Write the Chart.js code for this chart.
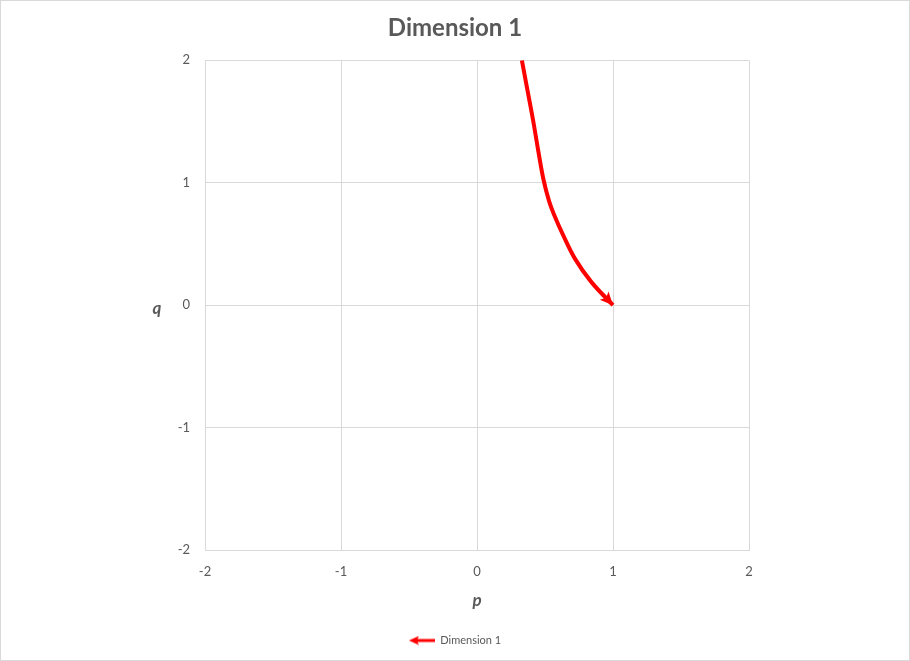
<!DOCTYPE html>
<html>
<head>
<meta charset="utf-8">
<script src="https://cdn.jsdelivr.net/npm/chart.js@4/dist/chart.umd.min.js"></script>
<style>
  html, body { margin: 0; padding: 0; background: #fff; }
  #wrap { width: 910px; height: 661px; }
</style>
</head>
<body>
<div id="wrap"><canvas id="chart" width="910" height="661"></canvas></div>
<script>
// values
const seriesName = 'Dimension 1';
const pValues = [0.33, 0.372, 0.414, 0.452, 0.49, 0.53, 0.57, 0.63, 0.72, 0.84, 1.00];
const qValues = [2.00, 1.75, 1.50, 1.25, 1.02, 0.85, 0.73, 0.58, 0.38, 0.19, 0.00];
const axisMin = -2;
const axisMax = 2;

const textColor = '#595959';
const gridColor = '#d9d9d9';
const lineColor = '#ff0000';
const fontFamily = 'Lato, "Liberation Sans", sans-serif';

const points = pValues.map((p, i) => ({ x: p, y: qValues[i] }));

// little arrow used as the legend symbol
function legendArrow() {
    const c = document.createElement('canvas');
    c.width = 26; c.height = 10;
    const g = c.getContext('2d');
    g.strokeStyle = lineColor;
    g.fillStyle = lineColor;
    g.lineWidth = 3;
    g.beginPath();
    g.moveTo(8, 5); g.lineTo(26, 5);
    g.stroke();
    g.beginPath();
    g.moveTo(0, 5); g.lineTo(10, 0.5); g.lineTo(8, 5); g.lineTo(10, 9.5);
    g.closePath();
    g.fill();
    return c;
}

const frame = {
    id: 'frame',
    beforeDraw(chart) {
        const ctx = chart.ctx;
        ctx.save();
        ctx.fillStyle = '#fff';
        ctx.fillRect(0, 0, chart.width, chart.height);
        ctx.strokeStyle = gridColor;
        ctx.lineWidth = 1;
        ctx.strokeRect(0.5, 0.5, chart.width - 1, chart.height - 1);
        ctx.restore();
    },
    afterDraw(chart) {
        // unrotated y axis title
        const ctx = chart.ctx;
        ctx.save();
        ctx.fillStyle = textColor;
        ctx.font = 'italic bold 17px ' + fontFamily;
        ctx.textAlign = 'center';
        ctx.textBaseline = 'middle';
        ctx.fillText('q', 157, chart.scales.y.getPixelForValue(0) + 3);
        ctx.restore();
    }
};

const arrowHead = {
    id: 'arrowHead',
    afterDatasetsDraw(chart) {
        const pts = chart.getDatasetMeta(0).data;
        if (pts.length < 2) return;
        const a = pts[pts.length - 2], b = pts[pts.length - 1];
        const ang = Math.atan2(b.y - a.y, b.x - a.x);
        const len = 13, half = 6;
        const ctx = chart.ctx;
        ctx.save();
        ctx.translate(b.x, b.y);
        ctx.rotate(ang);
        ctx.fillStyle = lineColor;
        ctx.beginPath();
        ctx.moveTo(0, 0);
        ctx.lineTo(-len, -half);
        ctx.lineTo(-len + 3, 0);
        ctx.lineTo(-len, half);
        ctx.closePath();
        ctx.fill();
        ctx.restore();
    }
};

new Chart(document.getElementById('chart'), {
    type: 'scatter',
    data: {
        datasets: [{
            label: seriesName,
            data: points,
            showLine: true,
            borderColor: lineColor,
            backgroundColor: lineColor,
            borderWidth: 4,
            pointRadius: 0,
            pointHoverRadius: 0,
            tension: 0.4,
            pointStyle: legendArrow()
        }]
    },
    options: {
        responsive: false,
        animation: false,
        layout: { padding: { left: 0, right: 0, top: 0, bottom: 5 } },
        plugins: {
            title: {
                display: true,
                text: 'Dimension 1',
                color: textColor,
                font: { family: fontFamily, size: 24, weight: 'bold' },
                padding: { top: 14, bottom: 17.5 }
            },
            legend: {
                position: 'bottom',
                labels: {
                    color: textColor,
                    font: { family: fontFamily, size: 11 },
                    usePointStyle: true,
                    pointStyleWidth: 26,
                    boxHeight: 10,
                    padding: 10
                }
            },
            tooltip: { enabled: false }
        },
        scales: {
            x: {
                type: 'linear',
                min: axisMin,
                max: axisMax,
                afterFit(scale) { scale.height = 75; },
                ticks: {
                    stepSize: 1,
                    color: textColor,
                    font: { family: fontFamily, size: 13 },
                    padding: 14
                },
                grid: { color: gridColor, drawTicks: false },
                border: { color: gridColor },
                title: {
                    display: true,
                    text: 'p',
                    color: textColor,
                    font: { family: fontFamily, size: 17, style: 'italic', weight: 'bold' },
                    padding: { top: 10, bottom: 14 }
                }
            },
            y: {
                type: 'linear',
                min: axisMin,
                max: axisMax,
                afterFit(scale) { scale.width = 205; },
                ticks: {
                    stepSize: 1,
                    color: textColor,
                    font: { family: fontFamily, size: 13 },
                    padding: 15
                },
                grid: { color: gridColor, drawTicks: false },
                border: { color: gridColor }
            },
            // empty axis on the right, only reserves the blank margin
            right: {
                type: 'linear',
                position: 'right',
                min: axisMin,
                max: axisMax,
                afterFit(scale) { scale.width = 161; },
                ticks: { display: false },
                grid: { display: false, drawTicks: false },
                border: { display: false }
            }
        }
    },
    plugins: [frame, arrowHead]
});
</script>
</body>
</html>
